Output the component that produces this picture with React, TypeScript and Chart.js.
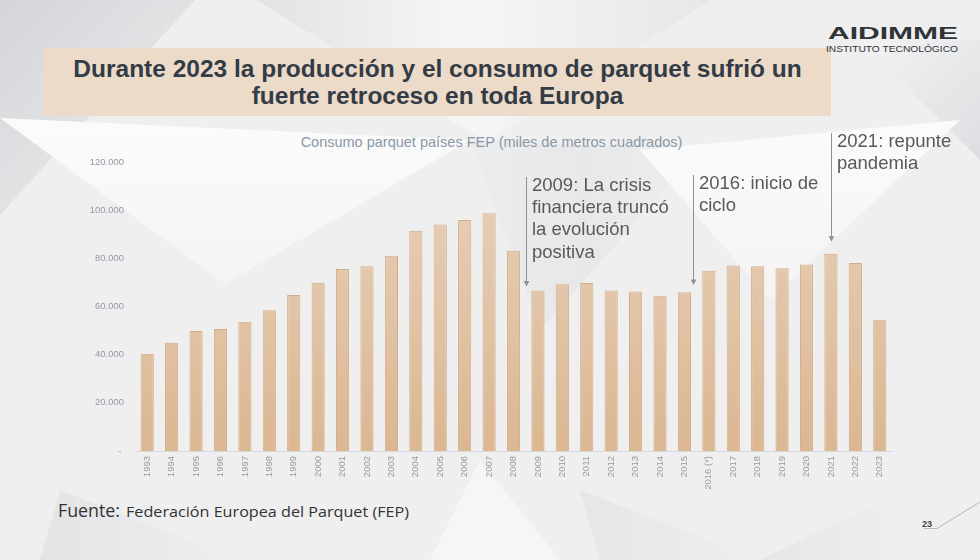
import React, { useEffect, useRef } from "react";
import { Chart, registerables } from "chart.js";

Chart.register(...registerables);

// ---------- data ----------
const years = [
  "1993", "1994", "1995", "1996", "1997", "1998", "1999", "2000", "2001", "2002",
  "2003", "2004", "2005", "2006", "2007", "2008", "2009", "2010", "2011", "2012",
  "2013", "2014", "2015", "2016 (*)", "2017", "2018", "2019", "2020", "2021", "2022", "2023",
];
const consumo = [
  40400, 45000, 49800, 50700, 53700, 58400, 64800, 69900, 75600, 76700,
  81100, 91500, 94100, 95900, 98700, 83100, 66600, 69200, 69800, 66600,
  66200, 64500, 65900, 74800, 77000, 76700, 75900, 77400, 81900, 78100, 54500,
];
const yMin = 0;
const yMax = 120000;
const yStep = 20000;

const chartTitle = "Consumo parquet países FEP (miles de metros cuadrados)";
const slideTitle = [
  "Durante 2023 la producción y el consumo de parquet sufrió un",
  "fuerte retroceso en toda Europa",
];
const annotationTexts = [
  ["2009: La crisis", "financiera truncó", "la evolución", "positiva"],
  ["2016: inicio de", "ciclo"],
  ["2021: repunte", "pandemia"],
];
// arrow anchor: category position, start value, tip value
const annotationCat = [15.52, 22.37, 28.0];
const annotationFrom = [113900, 114600, 132000];
const annotationTo = [68300, 68900, 86900];

const fmt = (v: number) =>
  v === 0 ? "- " : String(v).replace(/\B(?=(\d{3})+(?!\d))/g, ".");

const arrowPlugin = {
  id: "arrowNotes",
  afterDraw(chart: any) {
    const { ctx, scales } = chart;
    const x = scales.x;
    const y = scales.y;
    ctx.save();
    annotationTexts.forEach((lines, i) => {
      const px = Math.round(x.getPixelForValue(annotationCat[i])) + 0.5;
      const top = Math.round(y.getPixelForValue(annotationFrom[i]));
      const tip = y.getPixelForValue(annotationTo[i]);
      ctx.strokeStyle = "#8e9094";
      ctx.fillStyle = "#8e9094";
      ctx.lineWidth = 1;
      ctx.beginPath();
      ctx.moveTo(px, top);
      ctx.lineTo(px, tip - 5);
      ctx.stroke();
      ctx.beginPath();
      ctx.moveTo(px - 2.8, tip - 5.5);
      ctx.lineTo(px + 2.8, tip - 5.5);
      ctx.lineTo(px, tip);
      ctx.closePath();
      ctx.fill();
      ctx.fillStyle = "#595959";
      ctx.font = "18.5px 'Liberation Sans', Arial, sans-serif";
      ctx.textAlign = "left";
      ctx.textBaseline = "middle";
      lines.forEach((t, j) => {
        ctx.fillText(t, px + 5.5, top + 8.5 + j * 22.4);
      });
    });
    ctx.restore();
  },
};

function BarChart() {
  const ref = useRef<HTMLCanvasElement | null>(null);
  useEffect(() => {
    if (!ref.current) return;
    const chart = new Chart(ref.current, {
      type: "bar",
      data: {
        labels: years,
        datasets: [
          {
            label: "Consumo",
            data: consumo,
            backgroundColor: (c: any) => {
              const area = c.chart.chartArea;
              if (!area) return "#e2c5a7";
              const g = c.chart.ctx.createLinearGradient(0, area.top, 0, area.bottom);
              g.addColorStop(0, "#e8d1bb");
              g.addColorStop(1, "#dbb792");
              return g;
            },
            borderColor: "#d4ac87",
            borderWidth: 1,
            barPercentage: 0.54,
            categoryPercentage: 1,
          },
        ],
      },
      options: {
        animation: false,
        responsive: false,
        maintainAspectRatio: false,
        layout: { padding: { top: 42, right: 68, left: 0, bottom: 0 } },
        plugins: {
          legend: { display: false },
          title: { display: false },
          tooltip: { enabled: false },
        },
        scales: {
          x: {
            grid: { display: false, drawTicks: false },
            border: { display: true, color: "#d8d9dc", width: 1 },
            afterFit: (s: any) => {
              s.height = 39;
            },
            ticks: {
              autoSkip: false,
              minRotation: 90,
              maxRotation: 90,
              padding: 5,
              color: "#939ba5",
              font: { family: "'Liberation Sans', Arial, sans-serif", size: 9.5 },
            },
          },
          y: {
            min: yMin,
            max: yMax,
            grid: { display: false, drawTicks: false },
            border: { display: false },
            afterFit: (s: any) => {
              s.width = 75;
            },
            ticks: {
              stepSize: yStep,
              padding: 11,
              color: "#939ba5",
              font: { family: "'Liberation Sans', Arial, sans-serif", size: 9.5 },
              callback: (v: any) => fmt(Number(v)),
            },
          },
        },
      },
      plugins: [arrowPlugin],
    });
    return () => chart.destroy();
  }, []);
  return (
    <canvas
      ref={ref}
      width={900}
      height={370}
      style={{ position: "absolute", left: 60, top: 120, width: 900, height: 370 }}
    />
  );
}

function Background() {
  return (
    <svg width={980} height={560} style={{ position: "absolute", left: 0, top: 0 }}>
      <defs>
        <linearGradient id="gTL" x1="0" y1="0" x2="1" y2="1">
          <stop offset="0" stopColor="#d3d5d8" />
          <stop offset="1" stopColor="#eeeff0" />
        </linearGradient>
        <linearGradient id="gTop" x1="0" y1="0" x2="1" y2="0">
          <stop offset="0" stopColor="#e1e2e4" />
          <stop offset="0.45" stopColor="#f6f6f7" />
          <stop offset="1" stopColor="#e6e7e9" />
        </linearGradient>
        <linearGradient id="gMid" x1="0" y1="0" x2="1" y2="0">
          <stop offset="0" stopColor="#e8e9eb" />
          <stop offset="0.5" stopColor="#e0e1e3" />
          <stop offset="1" stopColor="#ecedee" />
        </linearGradient>
        <linearGradient id="gBot" x1="0" y1="0" x2="1" y2="0">
          <stop offset="0" stopColor="#dcdde0" />
          <stop offset="1" stopColor="#eeeeef" />
        </linearGradient>
        <linearGradient id="gRT" x1="0" y1="0" x2="1" y2="1">
          <stop offset="0" stopColor="#f3f3f4" />
          <stop offset="1" stopColor="#dddee1" />
        </linearGradient>
        <linearGradient id="gWhite" x1="0" y1="0" x2="0" y2="1">
          <stop offset="0" stopColor="#fbfbfb" />
          <stop offset="1" stopColor="#f4f4f5" />
        </linearGradient>
      </defs>
      <rect x={0} y={0} width={980} height={560} fill="#efeff0" />
      <polygon points="0,0 195,0 0,215" fill="url(#gTL)" />
      <polygon points="256,0 712,0 487,142" fill="url(#gTop)" />
      <polygon points="860,40 980,40 980,160" fill="url(#gRT)" />
      <polygon points="0,118 470,140 225,284" fill="url(#gWhite)" />
      <polygon points="470,140 700,150 540,330" fill="url(#gMid)" opacity={0.5} />
      <polygon points="640,150 960,120 770,300" fill="url(#gWhite)" />
      <polygon points="480,460 430,560 560,560" fill="#f6f6f6" />
      <polygon points="60,490 240,560 40,560" fill="url(#gBot)" opacity={0.6} />
      <polygon points="580,490 760,560 600,560" fill="url(#gBot)" opacity={0.5} />
      <polygon points="760,560 906,490 900,560" fill="url(#gBot)" opacity={0.5} />
    </svg>
  );
}

function SlideText() {
  return (
    <svg width={980} height={560} style={{ position: "absolute", left: 0, top: 0 }}>
      <rect x={43} y={48} width={788} height={68} fill="#ecdbc9" />
      <g fontFamily="'Liberation Sans', Arial, sans-serif" fontWeight="bold" fontSize={24.5} fill="#333c46" textAnchor="middle">
        <text x={437.5} y={76.5}>{slideTitle[0]}</text>
        <text x={437.5} y={103.5}>{slideTitle[1]}</text>
      </g>
      <text x={828} y={38.5} fontFamily="'Liberation Sans', Arial, sans-serif" fontWeight="bold" fontSize={17} fill="#2f3438" textLength={130} lengthAdjust="spacingAndGlyphs">AIDIMME</text>
      <text x={826} y={51.5} fontFamily="'Liberation Sans', Arial, sans-serif" fontSize={9.5} fill="#2f3438" textLength={132} lengthAdjust="spacingAndGlyphs">INSTITUTO TECNOLÓGICO</text>
      <text x={491.5} y={147} fontFamily="'Liberation Sans', Arial, sans-serif" fontSize={14.5} fill="#8a97a6" textAnchor="middle">{chartTitle}</text>
      <text x={58} y={516.7} fontFamily="'Open Sans', 'Noto Sans', sans-serif" fontSize={17.5} fill="#333333" textLength={62} lengthAdjust="spacingAndGlyphs">Fuente:</text>
      <text x={126} y={516.7} fontFamily="'Open Sans', 'Noto Sans', sans-serif" fontSize={15} fill="#333333" textLength={283} lengthAdjust="spacingAndGlyphs">Federación Europea del Parquet (FEP)</text>
      <text x={922} y={526.5} fontFamily="'Liberation Sans', Arial, sans-serif" fontSize={9} fill="#444" fontWeight="bold">23</text>
      <polyline points="924,528.5 937,528.5 980,502" fill="none" stroke="#a8a9ac" strokeWidth={0.8} />
    </svg>
  );
}

export default function App() {
  return (
    <div style={{ position: "fixed", left: 0, top: 0, width: 980, height: 560, overflow: "hidden" }}>
      <Background />
      <SlideText />
      <BarChart />
    </div>
  );
}
